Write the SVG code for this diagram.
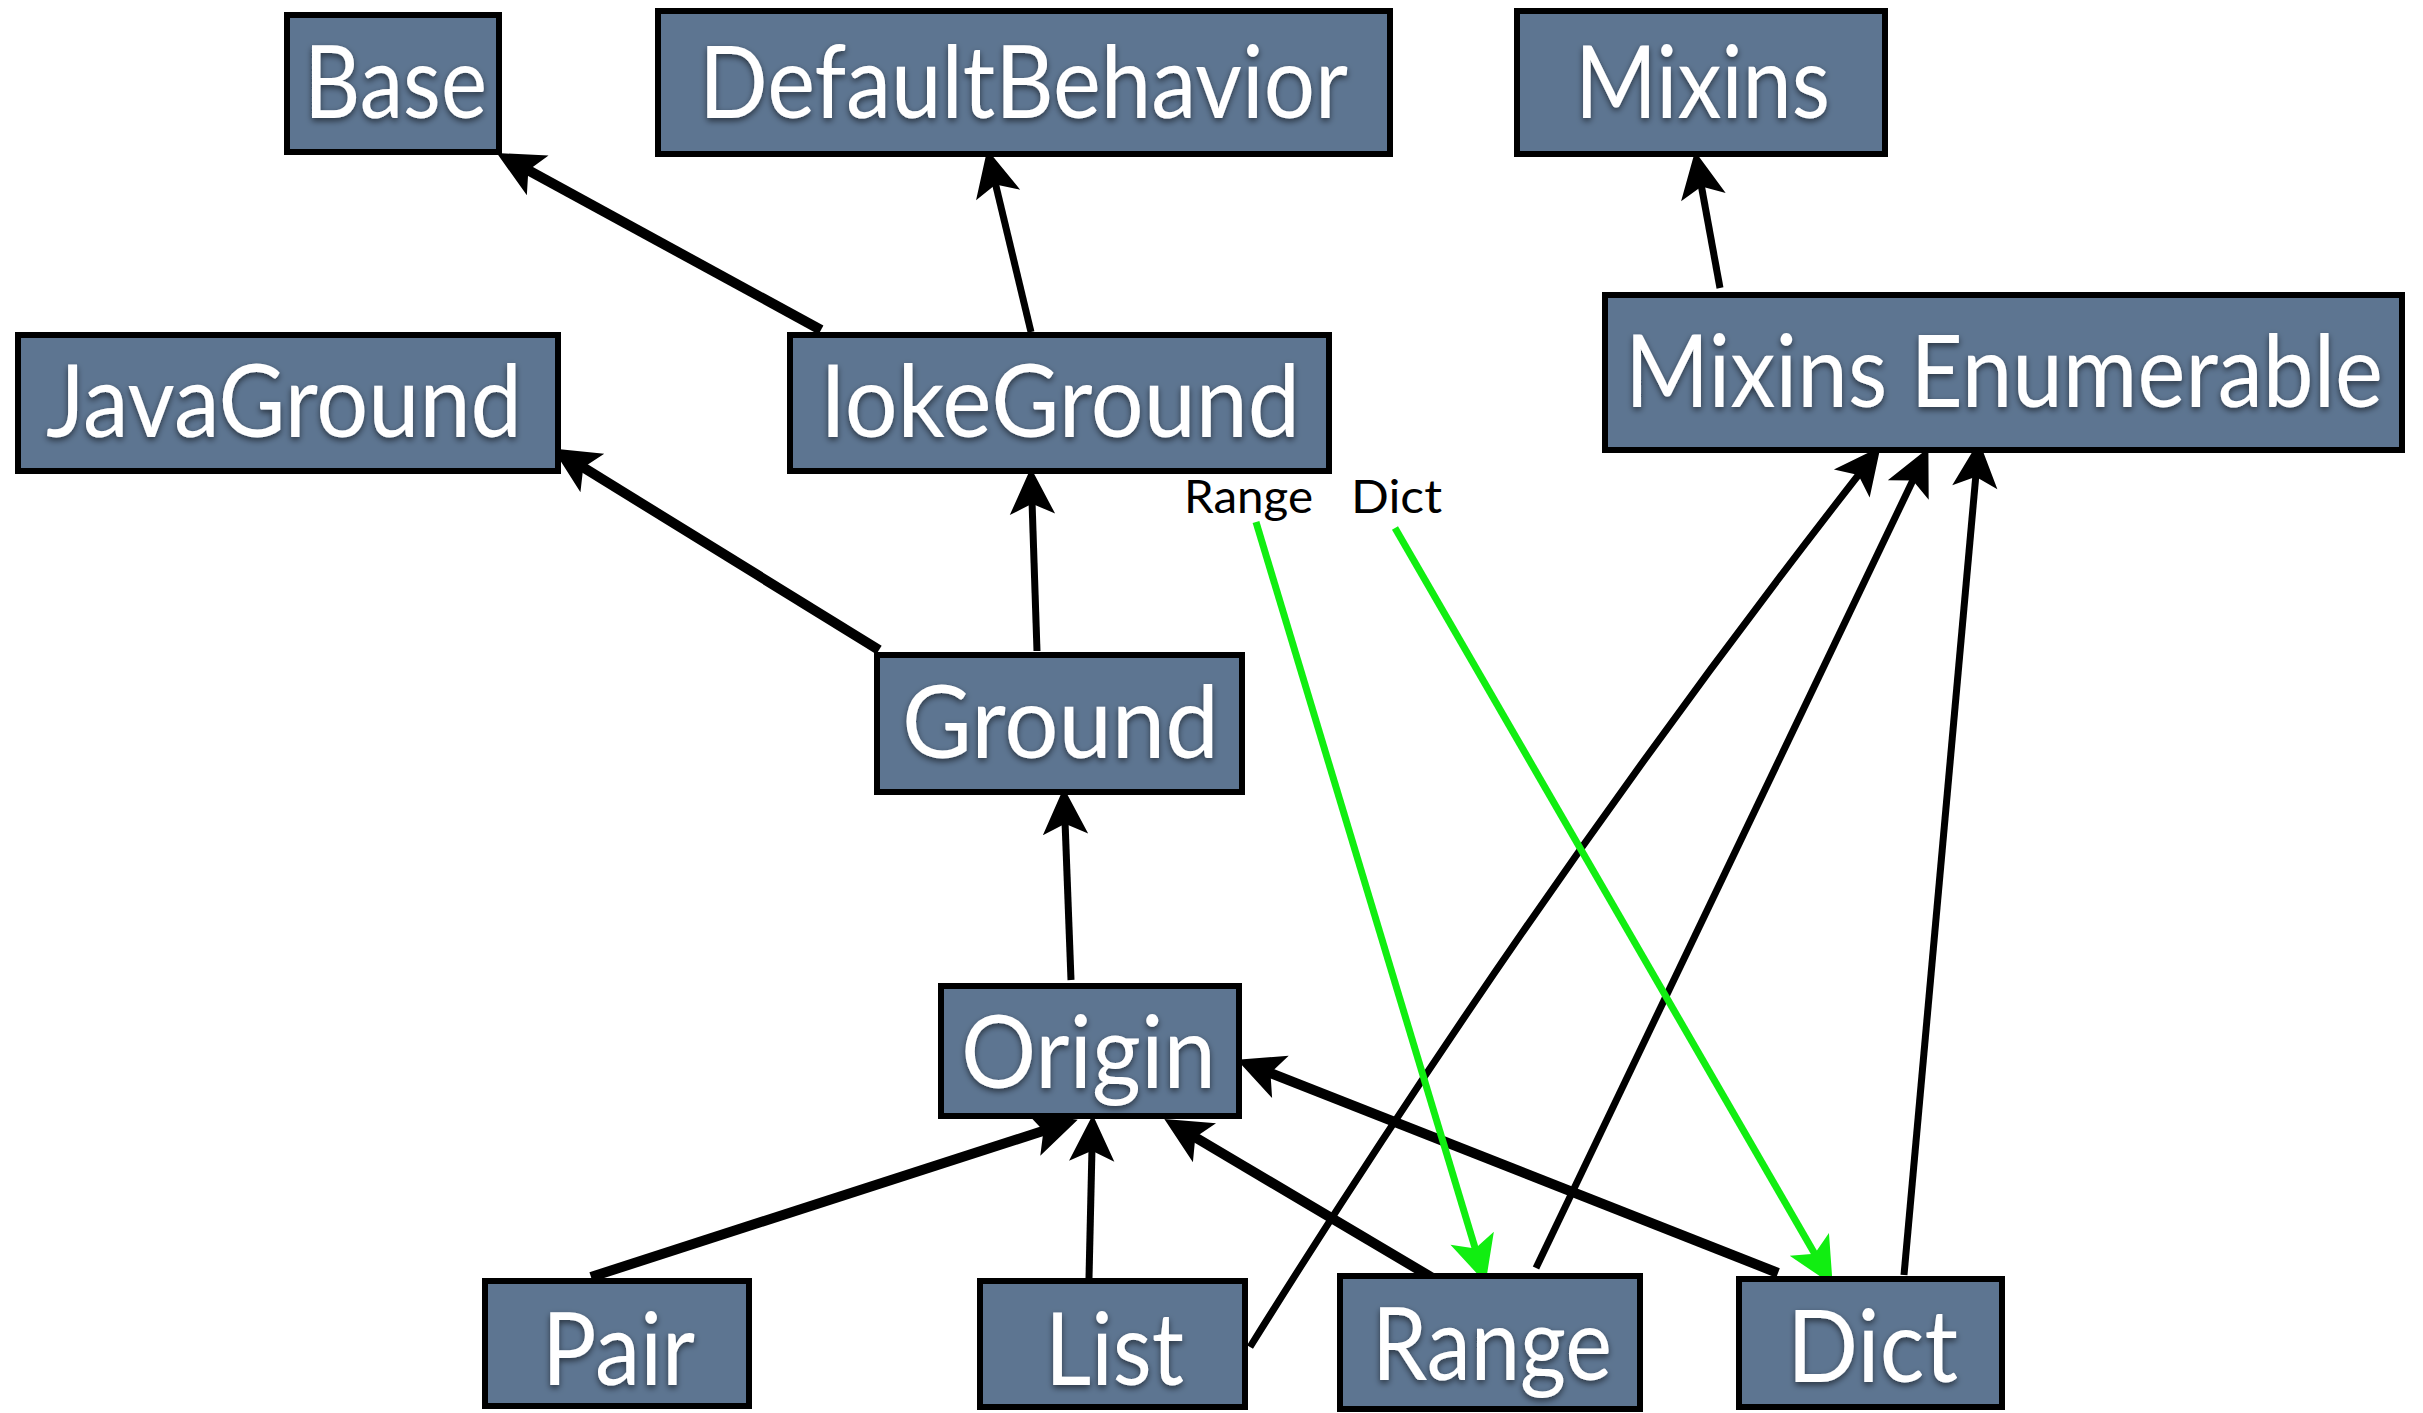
<svg xmlns="http://www.w3.org/2000/svg" width="2423" height="1413" viewBox="0 0 2423 1413">
<style>
.box{fill:#5d7591;stroke:#000;stroke-width:6}
.lbl{font-family:Lato,"Open Sans","Liberation Sans",sans-serif;font-size:100px;fill:#fff;filter:url(#sh)}
.small{font-family:Lato,"Open Sans","Liberation Sans",sans-serif;font-size:46px;fill:#000}
.e{fill:none;stroke:#000;stroke-width:7}
.t{stroke-width:10}
.g{fill:none;stroke:#11ee11;stroke-width:7}
</style>
<defs>
<filter id="sh" x="-10%" y="-20%" width="120%" height="150%">
<feDropShadow dx="0" dy="3" stdDeviation="3" flood-color="#000" flood-opacity="0.55"/>
</filter>
<marker id="ah" markerUnits="userSpaceOnUse" markerWidth="60" markerHeight="60" refX="0" refY="0" orient="auto" overflow="visible" viewBox="-15 -20 45 40">
<path d="M25,0 L-10,-17 L-2,0 L-10,17 Z" fill="#000"/>
</marker>
<marker id="ahg" markerUnits="userSpaceOnUse" markerWidth="60" markerHeight="60" refX="0" refY="0" orient="auto" overflow="visible" viewBox="-15 -20 45 40">
<path d="M25,0 L-10,-17 L-2,0 L-10,17 Z" fill="#11ee11"/>
</marker>
</defs>
<rect width="2423" height="1413" fill="#fff"/>
<g id="connectors">
<path class="e t" d="M821,330 L526,169" marker-end="url(#ah)"/>
<path class="e" d="M1031,332 L995,182" marker-end="url(#ah)"/>
<path class="e t" d="M879,650 L581,466" marker-end="url(#ah)"/>
<path class="e" d="M1037,651 L1032,501" marker-end="url(#ah)"/>
<path class="e" d="M1071,980 L1065,821" marker-end="url(#ah)"/>
<path class="e t" d="M591,1277 L1046,1130" marker-end="url(#ah)"/>
<path class="e" d="M1089,1278 L1092,1148" marker-end="url(#ah)"/>
<path class="e t" d="M1436,1280 L1193,1136" marker-end="url(#ah)"/>
<path class="e t" d="M1778,1273 L1268,1072" marker-end="url(#ah)"/>
<path class="e" d="M1250,1347 Q1539,884 1860,473" marker-end="url(#ah)"/>
<path class="e" d="M1536,1268 L1914,478" marker-end="url(#ah)"/>
<path class="e" d="M1904,1275 L1976,474" marker-end="url(#ah)"/>
<path class="e" d="M1720,288 L1701,184" marker-end="url(#ah)"/>
<path class="g" d="M1256,522 L1476,1251" marker-end="url(#ahg)"/>
<path class="g" d="M1395,528 L1816,1256" marker-end="url(#ahg)"/>
<text class="small" x="1184" y="513" textLength="129" lengthAdjust="spacingAndGlyphs">Range</text>
<text class="small" x="1351" y="513" textLength="91" lengthAdjust="spacingAndGlyphs">Dict</text>
</g>
<g id="Base"><rect class="box" x="287" y="15" width="212" height="137"/><text class="lbl" x="304" y="118" textLength="183" lengthAdjust="spacingAndGlyphs">Base</text></g>
<g id="DefaultBehavior"><rect class="box" x="658" y="11" width="732" height="143"/><text class="lbl" x="699" y="118" textLength="649" lengthAdjust="spacingAndGlyphs">DefaultBehavior</text></g>
<g id="Mixins"><rect class="box" x="1517" y="11" width="368" height="143"/><text class="lbl" x="1575" y="118" textLength="255" lengthAdjust="spacingAndGlyphs">Mixins</text></g>
<g id="JavaGround"><rect class="box" x="18" y="335" width="540" height="136"/><text class="lbl" x="46" y="437" textLength="476" lengthAdjust="spacingAndGlyphs">JavaGround</text></g>
<g id="IokeGround"><rect class="box" x="790" y="335" width="539" height="136"/><text class="lbl" x="820" y="437" textLength="480" lengthAdjust="spacingAndGlyphs">IokeGround</text></g>
<g id="MixinsEnumerable"><rect class="box" x="1605" y="295" width="797" height="155"/><text class="lbl" x="1625" y="407" textLength="758" lengthAdjust="spacingAndGlyphs">Mixins Enumerable</text></g>
<g id="Ground"><rect class="box" x="877" y="655" width="365" height="137"/><text class="lbl" x="902" y="758" textLength="317" lengthAdjust="spacingAndGlyphs">Ground</text></g>
<g id="Origin"><rect class="box" x="941" y="986" width="298" height="130"/><text class="lbl" x="961" y="1088" textLength="255" lengthAdjust="spacingAndGlyphs">Origin</text></g>
<g id="Pair"><rect class="box" x="485" y="1281" width="264" height="125"/><text class="lbl" x="542" y="1385" textLength="153" lengthAdjust="spacingAndGlyphs">Pair</text></g>
<g id="List"><rect class="box" x="980" y="1281" width="265" height="126"/><text class="lbl" x="1045" y="1385" textLength="139" lengthAdjust="spacingAndGlyphs">List</text></g>
<g id="Range"><rect class="box" x="1340" y="1276" width="300" height="133"/><text class="lbl" x="1372" y="1380" textLength="240" lengthAdjust="spacingAndGlyphs">Range</text></g>
<g id="Dict"><rect class="box" x="1739" y="1279" width="263" height="128"/><text class="lbl" x="1787" y="1382" textLength="171" lengthAdjust="spacingAndGlyphs">Dict</text></g>
</svg>
